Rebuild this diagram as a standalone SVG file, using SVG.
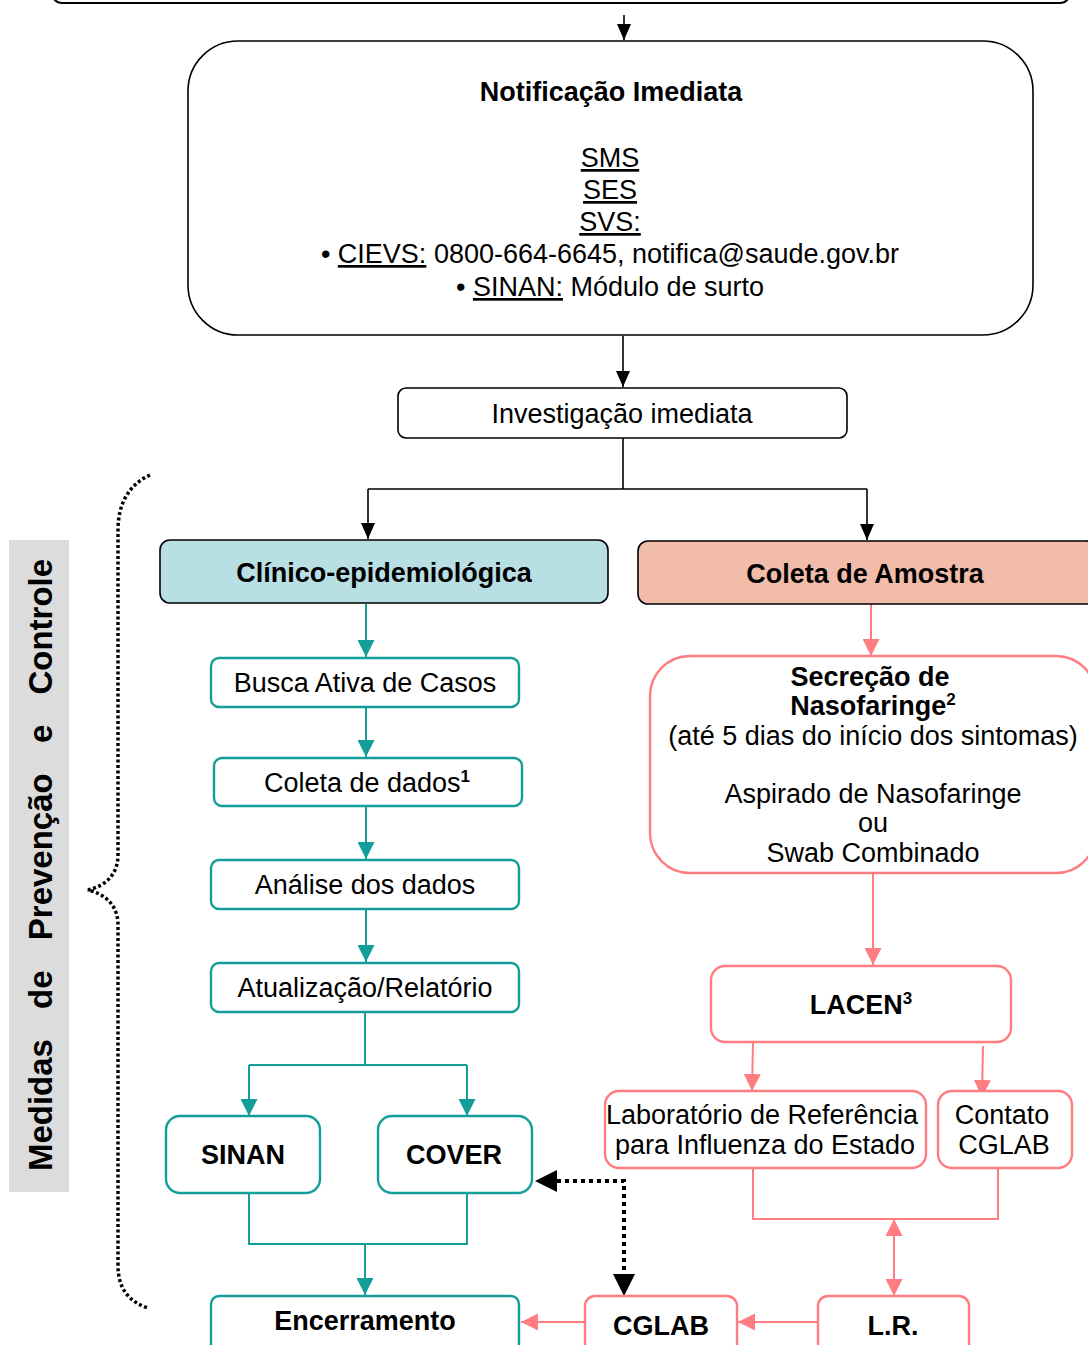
<svg xmlns="http://www.w3.org/2000/svg" width="1088" height="1345" viewBox="0 0 1088 1345">
  <style>
    text { font-family: "Liberation Sans", Arial, sans-serif; font-size: 27px; fill: #000; text-anchor: middle; }
    .b { font-weight: bold; }
    .u { text-decoration: underline; }
    .sup { font-size: 17px; }
    .boxK { fill: #fff; stroke: #000; stroke-width: 1.6; }
    .boxT { fill: #fff; stroke: #139e9a; stroke-width: 2.4; }
    .boxP { fill: #fff; stroke: #ff7c80; stroke-width: 2.4; }
    .lnK { fill: none; stroke: #000; stroke-width: 1.6; }
    .lnT { fill: none; stroke: #139e9a; stroke-width: 2; }
    .lnP { fill: none; stroke: #ff7c80; stroke-width: 2; }
    .dot { fill: none; stroke: #000; stroke-width: 4; stroke-dasharray: 4 4; }
    .brace { fill: none; stroke: #000; stroke-width: 3.5; stroke-dasharray: 3 2.5; }
  </style>
  <defs>
    <marker id="aK" markerUnits="userSpaceOnUse" markerWidth="16" markerHeight="14" refX="16" refY="7" orient="auto">
      <path d="M0,0 L16,7 L0,14 z" fill="#000"/>
    </marker>
    <marker id="aT" markerUnits="userSpaceOnUse" markerWidth="17" markerHeight="17" refX="17" refY="8.5" orient="auto">
      <path d="M0,0 L17,8.5 L0,17 z" fill="#139e9a"/>
    </marker>
    <marker id="aP" markerUnits="userSpaceOnUse" markerWidth="17" markerHeight="17" refX="17" refY="8.5" orient="auto-start-reverse">
      <path d="M0,0 L17,8.5 L0,17 z" fill="#ff7c80"/>
    </marker>
    <marker id="aD" markerUnits="userSpaceOnUse" markerWidth="22" markerHeight="22" refX="0" refY="11" orient="auto-start-reverse">
      <path d="M0,0 L22,11 L0,22 z" fill="#000"/>
    </marker>
  </defs>

  <!-- side label and brace -->
  <g id="side-label">
    <rect x="9" y="540" width="60" height="652" fill="#dcdcdc"/>
    <text class="b" transform="translate(52,865) rotate(-90)" style="font-size:33px" word-spacing="21">Medidas de Prevenção e Controle</text>
  </g>
  <path id="brace" class="brace" d="M150,475 C128,485 118,505 118,530 L118,855 C118,875 105,886 88,890 C105,894 118,905 118,925 L118,1265 C118,1290 130,1302 148,1308"/>

  <!-- connectors -->
  <g id="connectors">
    <path class="lnK" d="M624,15 L624,40" marker-end="url(#aK)"/>
    <path class="lnK" d="M291,92 L291,284" marker-end="url(#aK)"/>
    <path class="lnK" d="M623,336 L623,387" marker-end="url(#aK)"/>
    <path class="lnK" d="M623,438 L623,489 M368,489 L867,489"/>
    <path class="lnK" d="M368,489 L368,539" marker-end="url(#aK)"/>
    <path class="lnK" d="M867,489 L867,540" marker-end="url(#aK)"/>

    <path class="lnT" d="M366,604 L366,657" marker-end="url(#aT)"/>
    <path class="lnT" d="M366,708 L366,757" marker-end="url(#aT)"/>
    <path class="lnT" d="M366,807 L366,859" marker-end="url(#aT)"/>
    <path class="lnT" d="M366,910 L366,962" marker-end="url(#aT)"/>
    <path class="lnT" d="M365,1012 L365,1065 M249,1065 L467,1065"/>
    <path class="lnT" d="M249,1065 L249,1116" marker-end="url(#aT)"/>
    <path class="lnT" d="M467,1065 L467,1116" marker-end="url(#aT)"/>
    <path class="lnT" d="M249,1193 L249,1244 L467,1244 L467,1193"/>
    <path class="lnT" d="M365,1244 L365,1295" marker-end="url(#aT)"/>

    <path class="lnP" d="M871,604 L871,656" marker-end="url(#aP)"/>
    <path class="lnP" d="M873,873 L873,965" marker-end="url(#aP)"/>
    <path class="lnP" d="M753,1042 L752,1091" marker-end="url(#aP)"/>
    <path class="lnP" d="M983,1046 L982,1097" marker-end="url(#aP)"/>
    <path class="lnP" d="M753,1168 L753,1219 L998,1219 L998,1168"/>
    <path class="lnP" d="M894,1219 L894,1296" marker-start="url(#aP)" marker-end="url(#aP)"/>
    <path class="lnP" d="M818,1322 L738,1322" marker-end="url(#aP)"/>
    <path class="lnP" d="M585,1322 L521,1322" marker-end="url(#aP)"/>

    <path class="dot" d="M557,1181 L624,1181 L624,1274" marker-start="url(#aD)" marker-end="url(#aD)"/>
  </g>

  <!-- nodes -->
  <g id="n-top">
    <rect class="boxK" x="52" y="-30" width="1018" height="33" rx="10" style="stroke-width:2"/>
  </g>

  <g id="n-notificacao">
    <rect class="boxK" x="188" y="41" width="845" height="294" rx="50"/>
    <text class="b" x="611" y="101">Notificação Imediata</text>
    <text x="610" y="167"><tspan class="u">SMS</tspan></text>
    <text x="610" y="199"><tspan class="u">SES</tspan></text>
    <text x="610" y="231"><tspan class="u">SVS:</tspan></text>
    <text x="610" y="263">• <tspan class="u">CIEVS:</tspan> 0800-664-6645, notifica@saude.gov.br</text>
    <text x="610" y="296">• <tspan class="u">SINAN:</tspan> Módulo de surto</text>
  </g>

  <g id="n-investigacao">
    <rect class="boxK" x="398" y="388" width="449" height="50" rx="8"/>
    <text x="622" y="423">Investigação imediata</text>
  </g>

  <g id="n-clinico">
    <rect class="boxK" x="160" y="540" width="448" height="63" rx="10" style="fill:#b8dfe3"/>
    <text class="b" x="384" y="582">Clínico-epidemiológica</text>
  </g>

  <g id="n-coleta-amostra">
    <rect class="boxK" x="638" y="541" width="458" height="63" rx="10" style="fill:#f2bcaa"/>
    <text class="b" x="865" y="583">Coleta de Amostra</text>
  </g>

  <g id="n-busca">
    <rect class="boxT" x="211" y="658" width="308" height="49" rx="8"/>
    <text x="365" y="692">Busca Ativa de Casos</text>
  </g>

  <g id="n-coleta-dados">
    <rect class="boxT" x="214" y="758" width="308" height="48" rx="8"/>
    <text x="367" y="792">Coleta de dados<tspan class="sup b" dy="-10">1</tspan></text>
  </g>

  <g id="n-analise">
    <rect class="boxT" x="211" y="860" width="308" height="49" rx="8"/>
    <text x="365" y="894">Análise dos dados</text>
  </g>

  <g id="n-atualizacao">
    <rect class="boxT" x="211" y="963" width="308" height="49" rx="8"/>
    <text x="365" y="997">Atualização/Relatório</text>
  </g>

  <g id="n-sinan">
    <rect class="boxT" x="166" y="1116" width="154" height="77" rx="14"/>
    <text class="b" x="243" y="1164">SINAN</text>
  </g>

  <g id="n-cover">
    <rect class="boxT" x="378" y="1116" width="154" height="77" rx="14"/>
    <text class="b" x="454" y="1164">COVER</text>
  </g>

  <g id="n-encerramento">
    <rect class="boxT" x="211" y="1296" width="308" height="60" rx="8"/>
    <text class="b" x="365" y="1330">Encerramento</text>
  </g>

  <g id="n-secrecao">
    <rect class="boxP" x="650" y="656" width="446" height="217" rx="40"/>
    <text class="b" x="870" y="686">Secreção de</text>
    <text class="b" x="873" y="715">Nasofaringe<tspan class="sup" dy="-10">2</tspan></text>
    <text x="873" y="745">(até 5 dias do início dos sintomas)</text>
    <text x="873" y="803">Aspirado de Nasofaringe</text>
    <text x="873" y="832">ou</text>
    <text x="873" y="862">Swab Combinado</text>
  </g>

  <g id="n-lacen">
    <rect class="boxP" x="711" y="966" width="300" height="76" rx="14"/>
    <text class="b" x="861" y="1014">LACEN<tspan class="sup" dy="-10">3</tspan></text>
  </g>

  <g id="n-lab-ref">
    <rect class="boxP" x="605" y="1091" width="321" height="77" rx="14"/>
    <text x="762" y="1124">Laboratório de Referência</text>
    <text x="765" y="1154">para Influenza do Estado</text>
  </g>

  <g id="n-contato">
    <rect class="boxP" x="938" y="1091" width="134" height="77" rx="14"/>
    <text x="1002" y="1124">Contato</text>
    <text x="1004" y="1154">CGLAB</text>
  </g>

  <g id="n-cglab">
    <rect class="boxP" x="585" y="1296" width="152" height="60" rx="10"/>
    <text class="b" x="661" y="1335">CGLAB</text>
  </g>

  <g id="n-lr">
    <rect class="boxP" x="818" y="1296" width="151" height="60" rx="10"/>
    <text class="b" x="893" y="1335">L.R.</text>
  </g>
</svg>
